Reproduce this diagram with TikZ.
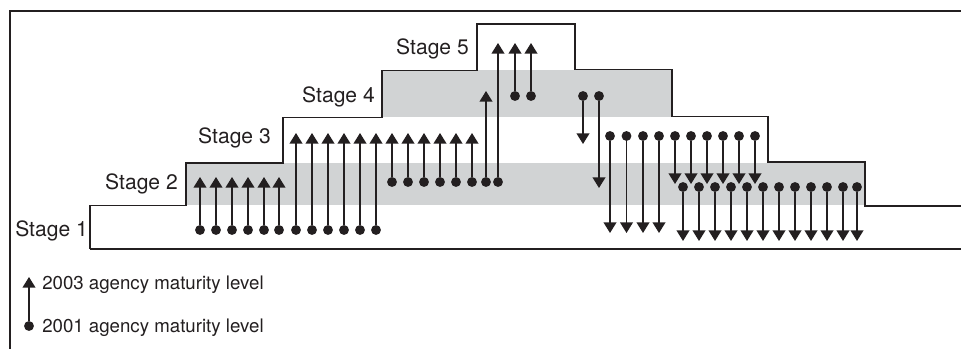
\documentclass[tikz,border=0pt]{standalone}
\usepackage{fontspec}
\setmainfont{TeX Gyre Heros}
\usetikzlibrary{arrows.meta}
\definecolor{ink}{HTML}{231F20}
\definecolor{band}{HTML}{D1D3D4}
\tikzset{
  outline/.style={draw=ink, line width=1.1pt},
  dot/.style={circle, fill=ink, inner sep=0pt, minimum size=7.4pt},
  arr/.style={draw=ink, line width=1.15pt, -{Triangle[length=8pt,width=9.6pt]}},
  stagelabel/.style={inner sep=0pt, anchor=base east, text=ink, font=\fontsize{15.8pt}{18pt}\selectfont},
  legendlabel/.style={inner sep=0pt, anchor=base west, text=ink, font=\fontsize{14pt}{16pt}\selectfont}
}
\begin{document}
\begin{tikzpicture}[x=0.75pt,y=-0.75pt]
\useasboundingbox (0,0) rectangle (961,349);
% frame
\draw[outline] (10,349) -- (10,11) -- (961,11);
% gray bands
\fill[band] (186,163) rectangle (865,205.5);
\fill[band] (382,70.5) rectangle (672,117);
% staircase outline
\draw[outline] (90,249) -- (90,205.5) -- (186,205.5) -- (186,163) -- (283,163) -- (283,117.5)
  -- (382,117.5) -- (382,70.5) -- (477,70.5) -- (477,24) -- (575,24) -- (575,69.5) -- (672,69.5)
  -- (672,116.5) -- (768,116.5) -- (768,162) -- (865,162) -- (865,206) -- (961,206);
\draw[outline] (90,249) -- (961,249);
% labels
\node[stagelabel, anchor=base west] (s1) at (15,236.5) {Stage 1};
\node[stagelabel] (s2) at (178,190) {Stage 2};
\node[stagelabel] (s3) at (271,144) {Stage 3};
\node[stagelabel] (s4) at (375,102.5) {Stage 4};
\node[stagelabel] (s5) at (469,55) {Stage 5};
% up arrows
\foreach \x [count=\i] in {200,216,232,248,264,279}{
  \node[dot] (A\i) at (\x,230) {}; \coordinate (A\i t) at (\x,177); \draw[arr] (A\i) -- (A\i t);}
\foreach \x [count=\i] in {296,312,328,344,360,376}{
  \node[dot] (B\i) at (\x,230) {}; \coordinate (B\i t) at (\x,133); \draw[arr] (B\i) -- (B\i t);}
\foreach \x [count=\i] in {392,408,424,440,456,472}{
  \node[dot] (C\i) at (\x,182) {}; \coordinate (C\i t) at (\x,133); \draw[arr] (C\i) -- (C\i t);}
\node[dot] (D1) at (486,182) {}; \coordinate (D1t) at (486,91); \draw[arr] (D1) -- (D1t);
\node[dot] (E1) at (498,182) {}; \coordinate (E1t) at (498,43); \draw[arr] (E1) -- (E1t);
\foreach \x [count=\i] in {515,531}{
  \node[dot] (F\i) at (\x,96) {}; \coordinate (F\i t) at (\x,43); \draw[arr] (F\i) -- (F\i t);}
% down arrows
\node[dot] (G1) at (583,96) {}; \coordinate (G1t) at (583,144); \draw[arr] (G1) -- (G1t);
\node[dot] (G2) at (599,96) {}; \coordinate (G2t) at (599,188); \draw[arr] (G2) -- (G2t);
\foreach \x [count=\i] in {610,626.5,643,659}{
  \node[dot] (H\i) at (\x,136) {}; \coordinate (H\i t) at (\x,233); \draw[arr] (H\i) -- (H\i t);}
\foreach \x [count=\i] in {675,691,707,723,739,755}{
  \node[dot] (K\i) at (\x,136) {}; \coordinate (K\i t) at (\x,184); \draw[arr] (K\i) -- (K\i t);}
\foreach \x [count=\i] in {683,699,715,731,747,763,779,795,811,827,843,857}{
  \node[dot] (I\i) at (\x,187) {}; \coordinate (I\i t) at (\x,241); \draw[arr] (I\i) -- (I\i t);}
% legend
\node[dot] (L1) at (29,326) {}; \coordinate (L1t) at (29,277); \draw[arr] (L1) -- (L1t);
\node[legendlabel] (l3) at (42,290) {2003 agency maturity level};
\node[legendlabel] (l1) at (42,332) {2001 agency maturity level};
\end{tikzpicture}
\end{document}
